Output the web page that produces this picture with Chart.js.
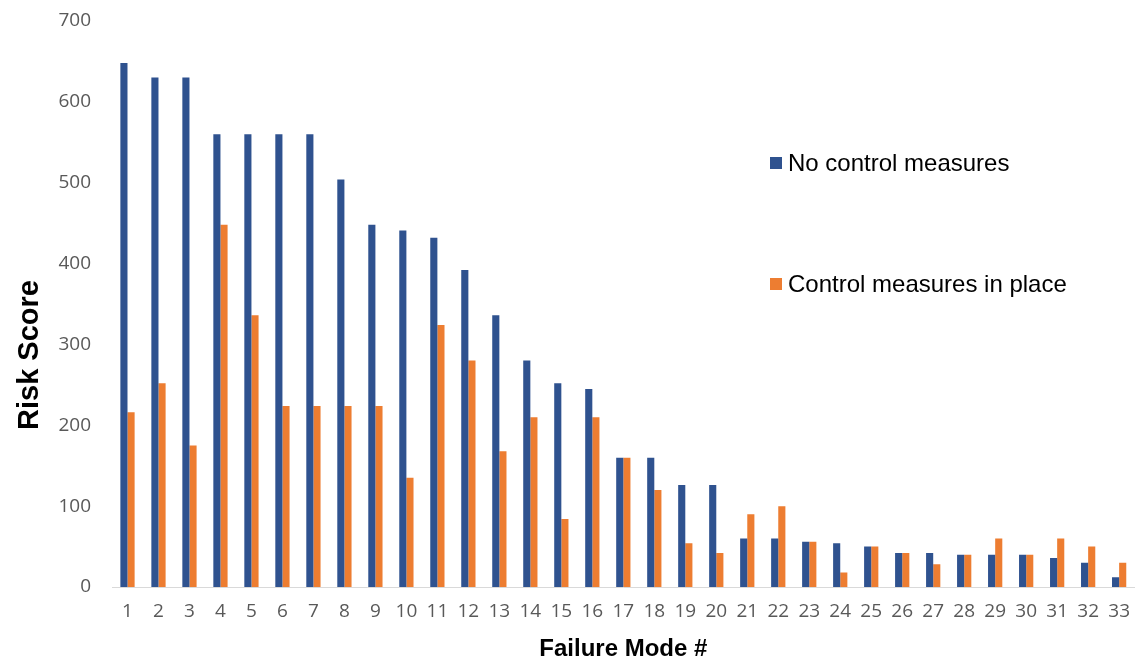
<!DOCTYPE html>
<html lang="en">
<head>
    <meta charset="UTF-8">
    <title>Risk Score by Failure Mode</title>
    <script src="https://cdn.jsdelivr.net/npm/chart.js@4.4.1/dist/chart.umd.min.js"></script>
    <style>
        html, body {
            margin: 0;
            padding: 0;
            background: #ffffff;
        }
        .chart-wrap {
            width: 1143px;
            height: 660px;
            position: relative;
        }
    </style>
</head>
<body>
    <div class="chart-wrap">
        <canvas id="riskChart"></canvas>
    </div>

    <script>
        // data
        const failureModes = ['1', '2', '3', '4', '5', '6', '7', '8', '9', '10', '11',
            '12', '13', '14', '15', '16', '17', '18', '19', '20', '21', '22',
            '23', '24', '25', '26', '27', '28', '29', '30', '31', '32', '33'];
        const noControl = [648, 630, 630, 560, 560, 560, 560, 504, 448, 441, 432,
            392, 336, 280, 252, 245, 160, 160, 126, 126, 60, 60,
            56, 54, 50, 42, 42, 40, 40, 40, 36, 30, 12];
        const withControl = [216, 252, 175, 448, 336, 224, 224, 224, 224, 135, 324,
            280, 168, 210, 84, 210, 160, 120, 54, 42, 90, 100,
            56, 18, 50, 42, 28, 40, 60, 40, 60, 50, 30];
        const seriesNames = ['No control measures', 'Control measures in place'];
        const yTicks = [0, 100, 200, 300, 400, 500, 600, 700];
        const yTitle = 'Risk Score';

        const blue = '#2F528F';
        const orange = '#ED7D31';

        // legend drawn inside the plot, stacked with a wide gap like the original
        const sideLegend = {
            id: 'sideLegend',
            afterDraw(chart) {
                const ctx = chart.ctx;
                const rows = [163, 284];
                ctx.save();
                ctx.font = '24px "Liberation Sans", Arial, sans-serif';
                ctx.textBaseline = 'middle';
                chart.data.datasets.forEach((ds, i) => {
                    ctx.fillStyle = ds.backgroundColor;
                    ctx.fillRect(770, rows[i] - 6, 12, 12);
                    ctx.fillStyle = '#000000';
                    ctx.fillText(ds.label, 788, rows[i] + 1);
                });
                // y title sits below the middle of the axis in the original
                ctx.translate(30, 355);
                ctx.rotate(-Math.PI / 2);
                ctx.textAlign = 'center';
                ctx.font = 'bold 29px "Liberation Sans", Arial, sans-serif';
                ctx.fillText(yTitle, 0, 0);
                ctx.restore();
            }
        };

        new Chart(document.getElementById('riskChart'), {
            type: 'bar',
            data: {
                labels: failureModes,
                datasets: [{
                    label: seriesNames[0],
                    data: noControl,
                    backgroundColor: blue,
                    barPercentage: 1,
                    categoryPercentage: 0.46
                }, {
                    label: seriesNames[1],
                    data: withControl,
                    backgroundColor: orange,
                    barPercentage: 1,
                    categoryPercentage: 0.46
                }]
            },
            options: {
                responsive: true,
                maintainAspectRatio: false,
                animation: false,
                layout: {
                    padding: { top: 21, right: 0, left: 12, bottom: 0 }
                },
                plugins: {
                    legend: { display: false },
                    tooltip: { enabled: false }
                },
                scales: {
                    x: {
                        afterFit(scale) { scale.height = 73; },
                        grid: { display: true, drawOnChartArea: false, drawTicks: false },
                        border: { display: true, color: '#d9d9d9', width: 1 },
                        ticks: {
                            color: '#595959',
                            font: { family: '"Open Sans", sans-serif', size: 19 },
                            maxRotation: 0,
                            autoSkip: false,
                            padding: 13
                        },
                        title: {
                            display: true,
                            text: 'Failure Mode #',
                            color: '#000000',
                            font: { family: '"Liberation Sans", Arial, sans-serif', size: 24, weight: 'bold' },
                            padding: { top: 8, bottom: -4 }
                        }
                    },
                    y: {
                        min: 0,
                        max: 700,
                        afterFit(scale) {
                            scale.width = 100;
                            scale.paddingTop = 0;
                            scale.paddingBottom = 0;
                        },
                        afterBuildTicks(scale) {
                            scale.ticks = yTicks.map(v => ({ value: v }));
                        },
                        grid: { display: false, drawTicks: false },
                        border: { display: false },
                        ticks: {
                            color: '#595959',
                            font: { family: '"Open Sans", sans-serif', size: 19 },
                            padding: 21
                        }
                    }
                }
            },
            plugins: [sideLegend]
        });
    </script>
</body>
</html>
